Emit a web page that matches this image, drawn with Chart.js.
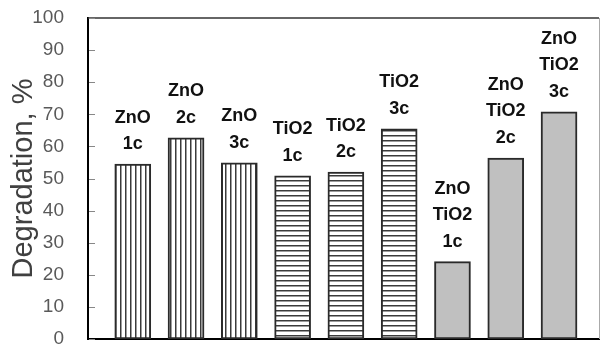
<!DOCTYPE html>
<html>
<head>
<meta charset="utf-8">
<script src="https://cdn.jsdelivr.net/npm/chart.js@4"></script>
<style>
  html, body { margin: 0; padding: 0; background: #fff; }
</style>
</head>
<body>
<canvas id="grafico" width="605" height="345"></canvas>
<script>
// Datos del gráfico
const etiquetas = [
  ["ZnO", "1c"], ["ZnO", "2c"], ["ZnO", "3c"],
  ["TiO2", "1c"], ["TiO2", "2c"], ["TiO2", "3c"],
  ["ZnO", "TiO2", "1c"], ["ZnO", "TiO2", "2c"], ["ZnO", "TiO2", "3c"]
];
const degradacion = [54.5, 62.7, 54.9, 50.8, 52.0, 65.5, 24.1, 56.4, 70.8];
const tipos = ["ZnO", "ZnO", "ZnO", "TiO2", "TiO2", "TiO2", "mix", "mix", "mix"];
const tituloY = "Degradation, %";

// Patrones de relleno (rayas verticales / horizontales)
function patronRayas(vertical) {
  const c = document.createElement("canvas");
  c.width = 5;
  c.height = 5;
  const g = c.getContext("2d");
  g.fillStyle = "#fff";
  g.fillRect(0, 0, 5, 5);
  g.fillStyle = "#3a3a3a";
  if (vertical) g.fillRect(0, 0, 1.5, 5);
  else g.fillRect(0, 0, 5, 1.5);
  return g.createPattern(c, "repeat");
}

const rellenos = {
  ZnO: patronRayas(true),
  TiO2: patronRayas(false),
  mix: "#c0c0c0"
};

// Etiquetas encima de cada barra
const etiquetasBarras = {
  id: "etiquetasBarras",
  afterDatasetsDraw(chart) {
    const ctx = chart.ctx;
    const meta = chart.getDatasetMeta(0);
    ctx.save();
    ctx.font = 'bold 18px "Liberation Sans", Arial, sans-serif';
    ctx.fillStyle = "#111";
    ctx.textAlign = "center";
    ctx.textBaseline = "alphabetic";
    meta.data.forEach((barra, i) => {
      const lineas = etiquetas[i];
      lineas.forEach((t, j) => {
        const y = barra.y - 15 - (lineas.length - 1 - j) * 26.5;
        ctx.fillText(t, barra.x, y);
      });
    });
    ctx.restore();
  }
};

// Marco superior/derecho y marcas interiores del eje Y
const marco = {
  id: "marco",
  afterDraw(chart) {
    const { ctx, chartArea: a } = chart;
    const y = chart.scales.y;
    ctx.save();
    ctx.strokeStyle = "#333";
    ctx.lineWidth = 1.5;
    ctx.beginPath();
    ctx.moveTo(a.left, a.top);
    ctx.lineTo(a.right, a.top);
    ctx.stroke();
    ctx.strokeStyle = "#aaa";
    ctx.lineWidth = 1;
    ctx.beginPath();
    ctx.moveTo(a.right + 0.5, a.top);
    ctx.lineTo(a.right + 0.5, a.bottom);
    ctx.stroke();
    ctx.strokeStyle = "#888";
    ctx.lineWidth = 1;
    y.ticks.forEach((t) => {
      const py = Math.round(y.getPixelForValue(t.value)) + 0.5;
      ctx.beginPath();
      ctx.moveTo(a.left + 1, py);
      ctx.lineTo(a.left + 7, py);
      ctx.stroke();
    });
    ctx.restore();
  }
};

const ctx = document.getElementById("grafico").getContext("2d");

new Chart(ctx, {
  type: "bar",
  data: {
    datasets: [{
      data: degradacion.map((v, i) => ({ x: i, y: v })),
      backgroundColor: tipos.map((t) => rellenos[t]),
      borderColor: "#2a2a2a",
      borderWidth: 2,
      borderSkipped: false,
      barThickness: 36
    }]
  },
  options: {
    responsive: false,
    animation: false,
    layout: { padding: { top: 18, right: 6, bottom: 6, left: 0 } },
    plugins: {
      legend: { display: false },
      tooltip: { enabled: false }
    },
    scales: {
      x: {
        type: "linear",
        offset: false,
        min: -0.84,
        max: 8.75,
        ticks: { display: false },
        grid: { display: false },
        border: { display: true, color: "#000", width: 2 },
        afterFit(scale) {
          scale.height = 0;
        }
      },
      y: {
        min: 0,
        max: 100,
        ticks: {
          stepSize: 10,
          padding: 16,
          color: "#595959",
          font: { family: '"Liberation Sans", Arial, sans-serif', size: 19 }
        },
        grid: { display: false },
        border: { display: true, color: "#000", width: 2 },
        title: {
          display: true,
          text: tituloY,
          color: "#404040",
          padding: { top: 9, bottom: 0 },
          font: { family: '"Liberation Sans", Arial, sans-serif', size: 29, lineHeight: 1 }
        },
        afterFit(scale) {
          scale.width = 88;
          scale.paddingTop = 0;
          scale.paddingBottom = 0;
        }
      }
    }
  },
  plugins: [etiquetasBarras, marco]
});
</script>
</body>
</html>
